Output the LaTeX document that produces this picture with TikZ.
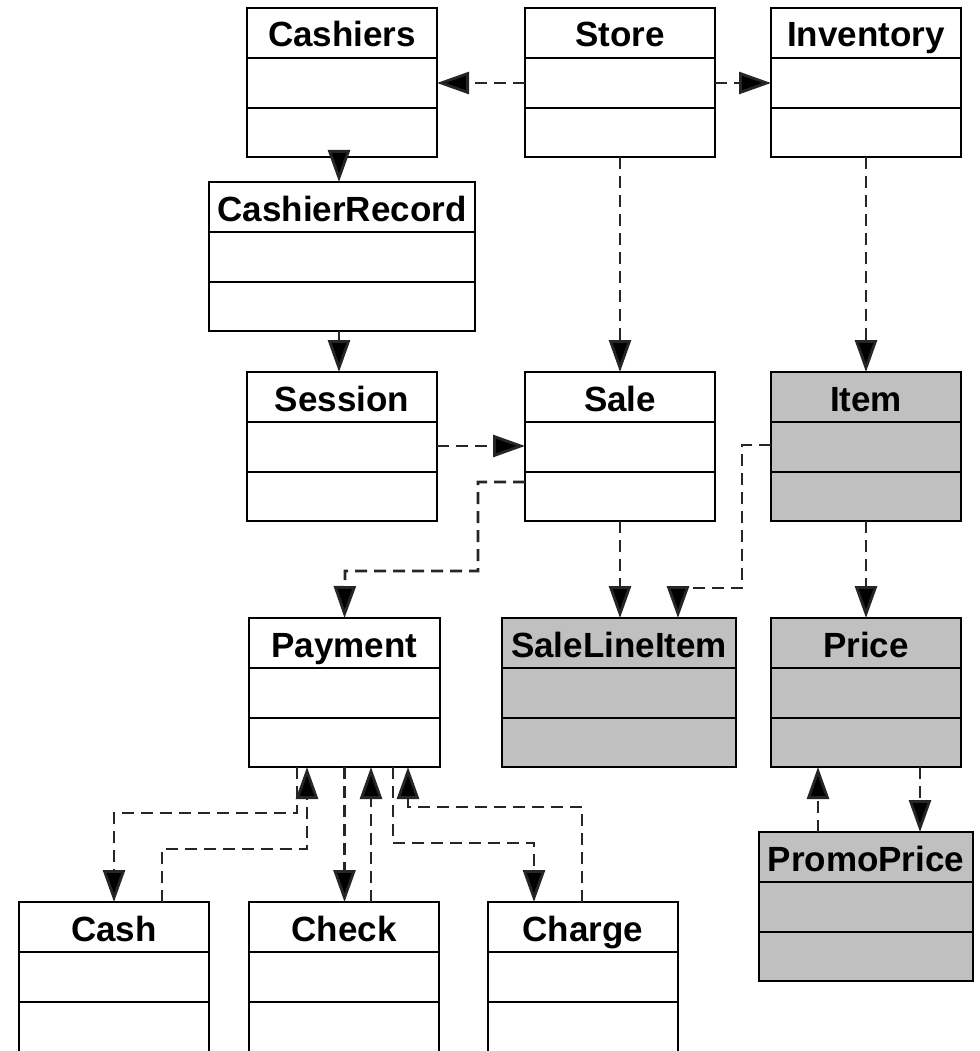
\documentclass[tikz,border=0pt]{standalone}
\usepackage{fontspec}
\setmainfont{Liberation Sans}
\usetikzlibrary{arrows.meta,calc}
\definecolor{boxgray}{RGB}{192,192,192}
\tikzset{
  classbox/.style={draw=black, line width=2.8pt, inner sep=0pt, outer sep=0pt, anchor=north west},
  divider/.style={draw=black, line width=2.8pt},
  titletext/.style={font=\fontsize{35}{42}\selectfont\bfseries, inner sep=0pt, anchor=base},
  conn/.style={draw=black!85, line width=2.8pt, dash pattern=on 12pt off 7pt,
    -{Triangle[length=32pt,width=22pt,fill=black]}},
}
\newcommand\umlbox[7]{%
  \node[classbox, fill=#7, minimum width=#4pt, minimum height=#5pt] (#1) at (#2,#3) {};
  \draw[divider] ([yshift=-50pt]#1.north west) -- ([yshift=-50pt]#1.north east);
  \draw[divider] ([yshift=-100pt]#1.north west) -- ([yshift=-100pt]#1.north east);
  \node[titletext] (#1-t) at ([yshift=-39pt]#1.north) {#6};
}
\begin{document}
\begin{tikzpicture}[x=1pt,y=-1pt]
\useasboundingbox (0,0) rectangle (979,1051);
\clip (0,0) rectangle (979,1051);
\fill[white] (0,0) rectangle (979,1051);
% boxes
\umlbox{Cashiers}{247}{8}{190}{149}{Cashiers}{white}
\umlbox{Store}{525}{8}{190}{149}{Store}{white}
\umlbox{Inventory}{771}{8}{190}{149}{Inventory}{white}
\umlbox{CashierRecord}{209}{182}{266}{149}{CashierRecord}{white}
\umlbox{Session}{247}{372}{190}{149}{Session}{white}
\umlbox{Sale}{525}{372}{190}{149}{Sale}{white}
\umlbox{Item}{771}{372}{190}{149}{Item}{boxgray}
\umlbox{Payment}{249}{618}{191}{149}{Payment}{white}
\umlbox{SaleLineItem}{502}{618}{234}{149}{SaleLineItem}{boxgray}
\umlbox{Price}{771}{618}{190}{149}{Price}{boxgray}
\umlbox{PromoPrice}{759}{832}{214}{149}{PromoPrice}{boxgray}
\umlbox{Cash}{19}{902}{190}{160}{Cash}{white}
\umlbox{Check}{249}{902}{190}{160}{Check}{white}
\umlbox{Charge}{488}{902}{190}{160}{Charge}{white}
% connectors
\draw[conn] ([yshift=-75pt]Store.north west) -- ([yshift=-75pt]Cashiers.north east);
\draw[conn] ([yshift=-75pt]Store.north east) -- ([yshift=-75pt]Inventory.north west);
\draw[conn] ([xshift=-3pt]Cashiers.south) -- ([xshift=-3pt]Cashiers.south |- CashierRecord.north);
\draw[conn] (Store.south) -- (Store.south |- Sale.north);
\draw[conn] (Inventory.south) -- (Inventory.south |- Item.north);
\draw[conn] ([xshift=-3pt]CashierRecord.south) -- ([xshift=-3pt]CashierRecord.south |- Session.north);
\draw[conn] ([yshift=-74pt]Session.north east) -- ([yshift=-74pt]Sale.north west);
\draw[conn] ([yshift=-110pt]Sale.north west) -- (478,482) -- (478,571) -- (345,571) -- (Payment.north);
\draw[conn] (Sale.south) -- (Sale.south |- SaleLineItem.north);
\draw[conn] ([yshift=-73pt]Item.north west) -- (742,445) -- (742,588) -- (678,588) -- ([xshift=59pt]SaleLineItem.north);
\draw[conn] (Item.south) -- (Item.south |- Price.north);
\draw[conn] ([xshift=54pt]Price.south) -- ([xshift=54pt]Price.south |- PromoPrice.north);
\draw[conn] ([xshift=-48pt]PromoPrice.north) -- ([xshift=-48pt]PromoPrice.north |- Price.south);
% payment subtypes
\draw[conn] ([xshift=-47.5pt]Payment.south) -- (297,813) -- (114,813) -- (Cash.north);
\draw[conn] ([xshift=48pt]Cash.north) -- (162,849) -- (307,849) -- ([xshift=-37.5pt]Payment.south);
\draw[conn] (Payment.south) -- (Payment.south |- Check.north);
\draw[conn] ([xshift=27pt]Check.north) -- ([xshift=27pt]Check.north |- Payment.south);
\draw[conn] ([xshift=48.5pt]Payment.south) -- (393,843) -- (534,843) -- ([xshift=-49pt]Charge.north);
\draw[conn] ([xshift=-1pt]Charge.north) -- (582,807) -- (408,807) -- ([xshift=63.5pt]Payment.south);
\end{tikzpicture}
\end{document}
